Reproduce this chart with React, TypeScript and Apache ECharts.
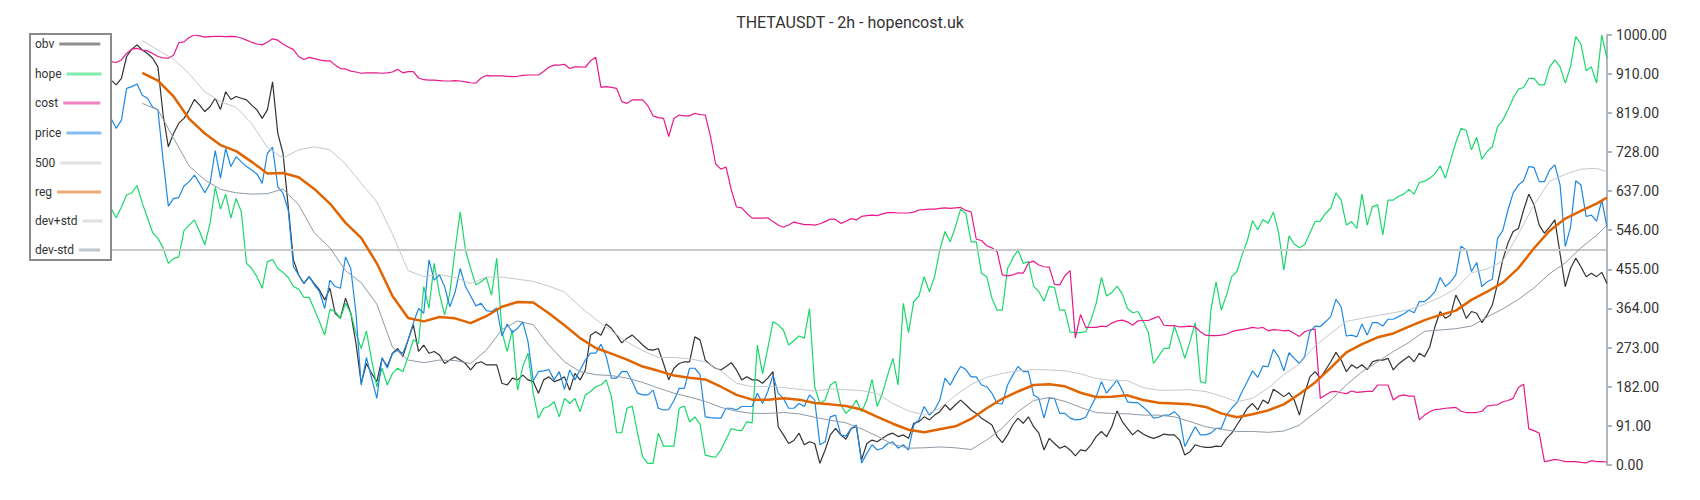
import React, { useEffect, useRef } from "react";
import * as echarts from "echarts";

const TITLE = "THETAUSDT - 2h - hopencost.uk";
const SERIES_NAMES = ["obv", "hope", "cost", "price", "500", "reg", "dev+std", "dev-std"];
const Y_TICK_STEP = 91;
const Y_MAX = 1000;
const MID_LEVEL = 500;
const POINT_COUNT = 288;

const OBV = [
  895, 884, 899, 950, 967, 977, 965, 957, 946, 926,
  814, 740, 771, 795, 806, 826, 850, 837, 822, 833,
  853, 827, 868, 850, 857, 853, 849, 837, 826, 806,
  826, 891, 771, 725, 601, 477, 442, 422, 438, 422,
  407, 384, 411, 353, 341, 388, 353, 283, 190, 236,
  213, 194, 248, 229, 260, 271, 252, 291, 326, 264,
  279, 260, 264, 256, 236, 244, 252, 244, 236, 221,
  236, 240, 233, 233, 233, 190, 186, 202, 198, 209,
  198, 194, 167, 198, 205, 194, 198, 205, 174, 213,
  198, 221, 302, 310, 302, 328, 318, 302, 284, 295,
  302, 291, 279, 269, 267, 271, 236, 198, 225, 236,
  240, 240, 298, 291, 244, 233, 225, 221, 229, 238,
  221, 198, 205, 198, 198, 190, 202, 217, 89, 70,
  50, 57, 74, 47, 54, 50, 4, 35, 70, 85,
  70, 60, 85, 89, 12, 50, 58, 54, 62, 70,
  74, 66, 70, 62, 97, 101, 112, 105, 116, 124,
  140, 128, 140, 151, 140, 128, 120, 109, 101, 93,
  66, 52, 70, 93, 109, 97, 112, 89, 74, 35,
  62, 50, 39, 44, 35, 21, 35, 33, 47, 66,
  78, 66, 89, 126, 101, 85, 70, 81, 72, 66,
  62, 66, 72, 70, 70, 58, 23, 31, 47, 43,
  41, 41, 44, 43, 62, 74, 93, 112, 132, 143,
  128, 151, 143, 176, 168, 159, 168, 151, 116, 167,
  205, 217, 202, 221, 240, 262, 244, 217, 233, 225,
  233, 222, 240, 244, 244, 248, 221, 235, 244, 253,
  240, 260, 252, 275, 322, 357, 341, 349, 395, 372,
  341, 357, 353, 331, 349, 372, 422, 477, 516, 543,
  550, 593, 630, 605, 558, 539, 554, 570, 491, 415,
  457, 481, 461, 438, 446, 438, 448, 422,
];

const HOPE = [
  597, 575, 600, 628, 633, 650, 609, 575, 540, 527,
  505, 469, 480, 484, 545, 558, 570, 543, 512, 562,
  646, 595, 630, 574, 620, 589, 469, 457, 438, 411,
  473, 478, 457, 448, 436, 415, 409, 390, 390, 362,
  333, 302, 362, 357, 341, 376, 353, 306, 271, 312,
  244, 182, 225, 186, 213, 225, 217, 252, 291, 283,
  415, 364, 469, 399, 349, 399, 500, 589, 500, 457,
  419, 426, 436, 395, 481, 310, 264, 314, 174, 229,
  260, 167, 109, 132, 136, 147, 112, 155, 143, 155,
  124, 163, 171, 182, 186, 198, 159, 75, 75, 132,
  137, 75, 19, 4, 4, 74, 44, 44, 44, 132,
  137, 100, 112, 95, 23, 20, 18, 35, 60, 85,
  81, 80, 101, 98, 279, 212, 271, 333, 326, 314,
  279, 289, 300, 295, 364, 182, 143, 151, 186, 194,
  140, 120, 132, 151, 124, 151, 199, 136, 167, 209,
  248, 186, 376, 308, 380, 393, 438, 403, 438, 500,
  543, 519, 554, 595, 585, 519, 519, 446, 438, 388,
  360, 360, 457, 481, 500, 469, 473, 416, 403, 381,
  415, 413, 360, 360, 309, 308, 308, 310, 337, 376,
  436, 393, 401, 416, 398, 364, 354, 357, 335, 309,
  236, 253, 271, 271, 323, 289, 248, 287, 331, 194,
  190, 360, 426, 360, 395, 438, 450, 488, 522, 568,
  547, 571, 562, 588, 541, 453, 533, 514, 505, 512,
  539, 566, 567, 585, 597, 633, 616, 558, 566, 550,
  630, 558, 601, 605, 535, 616, 616, 625, 630, 641,
  630, 657, 660, 667, 677, 696, 667, 709, 750, 783,
  778, 733, 762, 711, 729, 740, 787, 802, 826, 853,
  874, 878, 899, 899, 884, 884, 926, 942, 926, 888,
  926, 996, 979, 917, 926, 888, 1000, 946,
];

const COST = [
  938, 936, 942, 957, 967, 969, 965, 963, 957, 950,
  947, 946, 953, 982, 984, 994, 1000, 998, 995, 996,
  997, 997, 996, 997, 996, 993, 988, 983, 979, 977,
  983, 991, 988, 979, 972, 966, 950, 943, 948, 945,
  942, 940, 940, 930, 922, 921, 916, 914, 911, 912,
  912, 912, 911, 912, 914, 920, 912, 915, 915, 900,
  896, 895, 895, 894, 893, 893, 894, 893, 891, 889,
  888, 900, 906, 905, 905, 905, 904, 903, 904, 906,
  907, 907, 907, 915, 925, 930, 930, 932, 922, 926,
  926, 925, 940, 948, 878, 880, 878, 876, 845, 841,
  849, 849, 849, 835, 812, 808, 806, 764, 806, 814,
  812, 812, 818, 815, 814, 765, 700, 688, 693, 640,
  600, 598, 585, 574, 574, 574, 575, 566, 558, 553,
  558, 565, 562, 559, 559, 558, 561, 566, 572, 571,
  562, 567, 573, 570, 578, 580, 581, 580, 584, 587,
  587, 586, 586, 586, 588, 593, 594, 595, 595, 597,
  598, 597, 598, 599, 592, 589, 525, 522, 510, 505,
  496, 442, 440, 442, 447, 446, 470, 474, 465, 461,
  460, 420, 419, 440, 452, 295, 350, 320, 320, 320,
  323, 322, 330, 335, 337, 333, 325, 335, 336, 336,
  341, 346, 325, 324, 324, 321, 322, 323, 321, 310,
  302, 301, 301, 302, 304, 310, 313, 315, 317, 320,
  318, 320, 312, 315, 314, 312, 313, 306, 299, 310,
  314, 316, 155, 163, 170, 171, 168, 166, 172, 169,
  170, 171, 171, 186, 186, 186, 151, 160, 163, 160,
  160, 105, 116, 124, 129, 130, 132, 133, 134, 125,
  122, 122, 122, 125, 137, 139, 140, 147, 150, 155,
  180, 188, 84, 80, 74, 8, 10, 13, 11, 8,
  8, 8, 6, 5, 10, 8, 8, 7,
];

const PRICE = [
  806, 783, 802, 876, 880, 886, 860, 853, 832, 826,
  709, 602, 620, 622, 649, 659, 674, 655, 633, 655,
  731, 667, 736, 694, 717, 705, 694, 686, 677, 655,
  725, 739, 647, 632, 593, 461, 442, 422, 438, 419,
  403, 364, 430, 415, 411, 484, 457, 353, 186, 250,
  202, 155, 250, 225, 260, 267, 260, 291, 330, 364,
  353, 477, 430, 442, 415, 368, 401, 457, 415, 393,
  370, 376, 359, 357, 365, 300, 328, 308, 318, 333,
  287, 196, 217, 219, 222, 198, 217, 176, 221, 198,
  221, 244, 260, 260, 281, 252, 202, 202, 217, 217,
  194, 167, 163, 163, 174, 132, 128, 129, 150, 178,
  178, 225, 225, 210, 112, 110, 109, 109, 132, 132,
  128, 136, 136, 136, 167, 143, 171, 209, 167, 155,
  132, 132, 143, 136, 163, 151, 47, 54, 112, 116,
  70, 67, 85, 93, 4, 27, 47, 35, 39, 50,
  54, 39, 47, 35, 93, 105, 136, 116, 128, 151,
  202, 186, 209, 229, 222, 205, 205, 186, 182, 167,
  143, 142, 186, 209, 229, 217, 217, 163, 155, 109,
  155, 155, 120, 120, 109, 105, 106, 111, 136, 159,
  194, 167, 182, 198, 174, 147, 145, 145, 135, 124,
  109, 111, 116, 116, 124, 112, 43, 66, 89, 70,
  70, 74, 85, 85, 116, 132, 145, 171, 194, 219,
  204, 230, 229, 269, 252, 219, 261, 248, 236, 252,
  310, 323, 322, 333, 345, 385, 368, 300, 302, 298,
  328, 302, 331, 331, 323, 339, 339, 345, 351, 360,
  354, 380, 380, 390, 403, 436, 415, 426, 442, 509,
  500, 450, 471, 415, 426, 432, 527, 545, 593, 633,
  651, 661, 694, 692, 659, 659, 686, 698, 651, 508,
  553, 661, 651, 578, 581, 567, 616, 554,
];

// smooth series are read at every third candle (plus the last one)
const SMOOTH_FIRST = 6;
const SMOOTH_STRIDE = 3;

const REG = [
  912, 894, 857, 805, 771, 744, 730, 705, 678, 679,
  669, 642, 608, 563, 528, 469, 393, 342, 334, 344,
  341, 330, 346, 368, 379, 378, 353, 325, 295, 272,
  259, 245, 229, 219, 208, 203, 199, 182, 163, 152,
  152, 155, 152, 144, 141, 137, 129, 112, 96, 82,
  76, 83, 90, 107, 132, 154, 171, 186, 188, 183,
  168, 158, 159, 162, 151, 145, 143, 141, 135, 120,
  111, 118, 127, 141, 165, 192, 226, 262, 281, 297,
  306, 322, 337, 349, 359, 384, 403, 424, 458, 504,
  545, 573, 591, 608, 622,
];

const DEV_PLUS = [
  987, 965, 944, 910, 868, 845, 832, 794, 738, 714,
  733, 740, 733, 700, 655, 612, 537, 452, 438, 443,
  436, 422, 437, 437, 432, 427, 416, 402, 368, 339,
  312, 286, 266, 250, 250, 247, 240, 219, 190, 182,
  183, 180, 176, 172, 177, 175, 173, 166, 143, 126,
  116, 132, 162, 187, 204, 213, 219, 222, 221, 219,
  212, 201, 197, 196, 180, 174, 174, 175, 171, 160,
  147, 155, 179, 210, 235, 277, 306, 334, 341, 348,
  354, 361, 374, 390, 410, 447, 456, 474, 537, 605,
  660, 676, 688, 690, 682,
];

const DEV_MINUS = [
  841, 826, 760, 695, 663, 641, 633, 630, 631, 642,
  605, 540, 505, 452, 424, 374, 274, 244, 238, 244,
  243, 236, 267, 315, 335, 326, 279, 240, 217, 210,
  208, 202, 192, 179, 167, 158, 148, 134, 125, 120,
  120, 122, 119, 111, 104, 98, 84, 67, 48, 39,
  40, 42, 40, 36, 58, 86, 124, 150, 157, 148,
  134, 122, 120, 119, 116, 116, 112, 101, 89, 83,
  78, 78, 76, 79, 93, 122, 151, 186, 217, 240,
  264, 285, 311, 314, 317, 323, 344, 363, 385, 412,
  445, 470, 505, 534, 558,
];

const COLORS = {
  obv: "#333333",
  hope: "#1ad86a",
  cost: "#e8198b",
  price: "#1e88e5",
  mid: "#c8c8c8",
  reg: "#e06400",
  devPlus: "#c3c8cd",
  devMinus: "#8e9aa5",
};

function smoothPairs(values: number[]) {
  return values.map((v, k) => {
    const idx = Math.min(SMOOTH_FIRST + k * SMOOTH_STRIDE, POINT_COUNT - 1);
    return [idx, v];
  });
}

export default function App() {
  const ref = useRef<HTMLDivElement>(null);

  useEffect(() => {
    if (!ref.current) return;
    const chart = echarts.init(ref.current, undefined, { renderer: "svg" });
    const categories = Array.from({ length: POINT_COUNT }, (_, i) => String(i));
    const font = "Roboto";

    const legendIconWidths = [41, 35, 37, 35, 41, 44, 20, 21];
    const legendCenters = [45, 75, 104, 134, 164, 193, 222, 251];
    const legends = SERIES_NAMES.map((n, k) => ({
      data: [n],
      orient: "vertical",
      left: 35,
      top: legendCenters[k] - 7,
      itemWidth: legendIconWidths[k],
      itemHeight: 14,
      align: "right",
      padding: 0,
      selectedMode: false,
      textStyle: { color: "#333", fontSize: 12, fontFamily: font },
      lineStyle: { width: 3, opacity: 0.55 },
      itemStyle: { opacity: 0 },
    }));

    const lineSeries = (name: string, data: any, color: string, width: number) => ({
      name,
      type: "line",
      data,
      symbol: "none",
      showSymbol: false,
      connectNulls: true,
      lineStyle: { color, width },
      itemStyle: { color },
      emphasis: { disabled: true },
    });

    chart.setOption({
      animation: false,
      backgroundColor: "#ffffff",
      title: {
        text: TITLE,
        left: "center",
        top: 9,
        textStyle: { color: "#333", fontSize: 16, fontWeight: "normal", fontFamily: font },
      },
      legend: legends,
      grid: { left: 111, right: 93, top: 35, bottom: 35 },
      xAxis: {
        type: "category",
        data: categories,
        boundaryGap: false,
        show: false,
      },
      yAxis: {
        type: "value",
        position: "right",
        min: 0,
        max: Y_MAX,
        interval: Y_TICK_STEP,
        axisLine: { show: true, lineStyle: { color: "#aeb6bf", width: 2 } },
        axisTick: { show: true, length: 5, lineStyle: { color: "#aeb6bf", width: 2 } },
        splitLine: { show: false },
        axisLabel: {
          color: "#333",
          fontSize: 14,
          fontFamily: font,
          margin: 9,
          formatter: (v: number) => v.toFixed(2),
        },
      },
      graphic: [
        {
          type: "rect",
          shape: { x: 30, y: 34, width: 81, height: 226 },
          style: { fill: "transparent", stroke: "#8a8a8a", lineWidth: 2 },
          z: 100,
        },
      ],
      series: [
        lineSeries("obv", OBV, COLORS.obv, 1.2),
        lineSeries("hope", HOPE, COLORS.hope, 1.2),
        lineSeries("cost", COST, COLORS.cost, 1.2),
        lineSeries("price", PRICE, COLORS.price, 1.2),
        lineSeries("500", [[0, MID_LEVEL], [POINT_COUNT - 1, MID_LEVEL]], COLORS.mid, 2),
        lineSeries("reg", smoothPairs(REG), COLORS.reg, 2.5),
        lineSeries("dev+std", smoothPairs(DEV_PLUS), COLORS.devPlus, 1),
        lineSeries("dev-std", smoothPairs(DEV_MINUS), COLORS.devMinus, 1),
      ],
    });

    return () => chart.dispose();
  }, []);

  return (
    <div
      ref={ref}
      style={{ position: "absolute", left: 0, top: 0, width: 1700, height: 500 }}
    />
  );
}
